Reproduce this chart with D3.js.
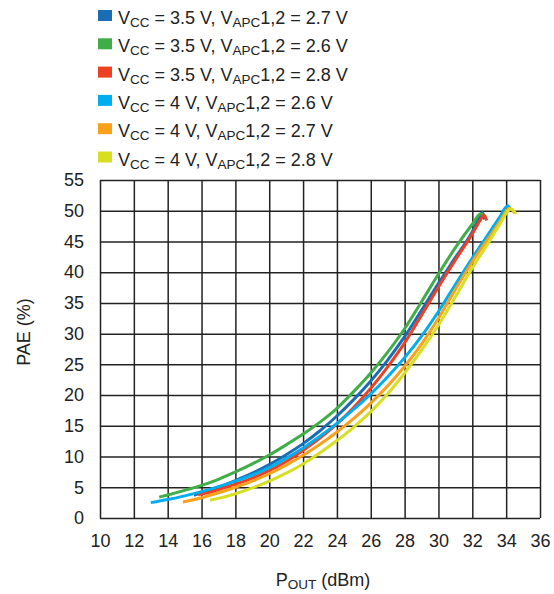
<!DOCTYPE html>
<html>
<head>
<meta charset="utf-8">
<script src="https://cdn.jsdelivr.net/npm/d3@7"></script>
<style>
  body { margin: 0; background: #fff; }
  svg { display: block; font-family: "Liberation Sans", Arial, sans-serif; }
</style>
</head>
<body>
<script>
const w = 554;
const h = 594;
const margin = { top: 180, right: 14, bottom: 76, left: 100 };

// legend entries: [vcc, vapc]
const vcc = ["3.5", "3.5", "3.5", "4", "4", "4"];
const vapc = ["2.7", "2.6", "2.8", "2.6", "2.7", "2.8"];
const colors = ["#1a6db5", "#3fae49", "#ee4124", "#00aeef", "#f9a11b", "#d7df23"];

const xTicks = [10, 12, 14, 16, 18, 20, 22, 24, 26, 28, 30, 32, 34, 36];
const yTicks = [0, 5, 10, 15, 20, 25, 30, 35, 40, 45, 50, 55];

// Pout (dBm) / PAE (%)
const blue = [[15.55, 3.7], [16, 4.1], [17, 5.0], [18, 6.1], [19, 7.3], [20, 8.7], [21, 10.3], [22, 12.1],
  [23, 14.2], [24, 16.6], [25, 19.3], [26, 22.3], [27, 25.7], [28, 29.5], [29, 33.8], [30, 38.2],
  [31, 42.4], [32, 46.6], [32.4, 48.8], [32.6, 49.7], [32.72, 48.6]];
const green = [[13.5, 3.4], [14, 3.75], [15, 4.5], [16, 5.3], [17, 6.3], [18, 7.5], [19, 8.8], [20, 10.25],
  [21, 11.9], [22, 13.65], [23, 15.6], [24, 17.85], [25, 20.6], [26, 23.6], [27, 27.0], [28, 30.8],
  [29, 35.2], [30, 39.7], [31, 44.0], [32, 47.8], [32.5, 49.5], [32.65, 49.3]];
const red = [[15.8, 3.8], [16, 3.9], [17, 4.6], [18, 5.5], [19, 6.5], [20, 7.7], [21, 9.2], [22, 11.0],
  [23, 13.0], [24, 15.3], [25, 18.0], [26, 21.1], [27, 24.6], [28, 28.5], [29, 33.0], [30, 37.6],
  [31, 42.0], [32, 46.2], [32.5, 48.6], [32.7, 49.3], [32.85, 48.4]];
const cyan = [[13.0, 2.5], [14, 3.0], [15, 3.6], [16, 4.3], [17, 5.1], [18, 6.0], [19, 7.0], [20, 8.2],
  [21, 9.7], [22, 11.4], [23, 13.3], [24, 15.4], [25, 17.7], [26, 20.2], [27, 23.0], [28, 26.1],
  [29, 29.6], [30, 33.6], [31, 38.0], [32, 42.3], [33, 46.4], [33.6, 48.9], [34.1, 50.8], [34.22, 50.4]];
const orange = [[14.9, 2.6], [16, 3.3], [17, 4.1], [18, 5.0], [19, 6.0], [20, 7.2], [21, 8.6], [22, 10.2],
  [23, 12.0], [24, 14.0], [25, 16.2], [26, 18.7], [27, 21.5], [28, 24.7], [29, 28.3], [30, 32.5],
  [31, 37.2], [32, 41.7], [33, 45.7], [33.6, 48.1], [34.2, 50.4], [34.5, 49.6]];
const yellow = [[16.5, 2.9], [17, 3.2], [18, 3.95], [19, 4.9], [20, 6.0], [21, 7.3], [22, 8.8], [23, 10.6],
  [24, 12.6], [25, 14.8], [26, 17.3], [27, 20.2], [28, 23.6], [29, 27.3], [30, 31.4], [31, 36.0],
  [32, 40.7], [33, 45.0], [33.6, 47.7], [34.3, 50.3], [34.58, 49.5]];

const series = [blue, green, red, cyan, orange, yellow];

const svg = d3.select("body").append("svg").attr("width", w).attr("height", h);

const xScale = d3.scaleLinear().domain([10, 36]).range([margin.left, w - margin.right]);
const yScale = d3.scaleLinear().domain([0, 55]).range([h - margin.bottom, margin.top]);

const gridColor = "#222";

// x grid + labels
const gx = svg.append("g")
  .attr("transform", "translate(0," + (h - margin.bottom) + ")")
  .call(d3.axisBottom(xScale).tickValues(xTicks).tickSize(-(h - margin.top - margin.bottom)).tickPadding(16));
gx.select(".domain").remove();
gx.selectAll(".tick line").attr("stroke", gridColor).attr("stroke-width", 1.5);
gx.selectAll(".tick text").attr("fill", "#222").style("font-size", "18px").style("font-family", "Liberation Sans, Arial, sans-serif");

// y grid + labels
const gy = svg.append("g")
  .attr("transform", "translate(" + margin.left + ",0)")
  .call(d3.axisLeft(yScale).tickValues(yTicks).tickSize(-(w - margin.left - margin.right)).tickPadding(16));
gy.select(".domain").remove();
gy.selectAll(".tick line").attr("stroke", gridColor).attr("stroke-width", 1.5);
gy.selectAll(".tick text").attr("fill", "#222").style("font-size", "18px").style("font-family", "Liberation Sans, Arial, sans-serif");

// curves
const line = d3.line()
  .x(d => xScale(d[0]))
  .y(d => yScale(d[1]))
  .curve(d3.curveMonotoneX);

svg.selectAll("path.curve")
  .data(series)
  .enter()
  .append("path")
  .attr("class", "curve")
  .attr("d", line)
  .attr("fill", "none")
  .attr("stroke", (d, i) => colors[i])
  .attr("stroke-width", 3)
  .attr("stroke-linecap", "butt");

// legend
const legend = svg.append("g");
vcc.forEach((v, i) => {
  const base = 24 + i * 28.3;
  legend.append("rect")
    .attr("x", 98)
    .attr("y", base - 14)
    .attr("width", 14)
    .attr("height", 11)
    .attr("fill", colors[i]);
  const t = legend.append("text")
    .attr("x", 118)
    .attr("y", base)
    .attr("fill", "#222")
    .style("font-size", "18px");
  t.append("tspan").text("V");
  t.append("tspan").attr("dy", 3).style("font-size", "13.5px").text("CC");
  t.append("tspan").attr("dy", -3).text(" = " + v + " V, V");
  t.append("tspan").attr("dy", 3).style("font-size", "13.5px").text("APC");
  t.append("tspan").attr("dy", -3).text("1,2 = " + vapc[i] + " V");
});

// axis titles
const xt = svg.append("text")
  .attr("x", 323)
  .attr("y", 586)
  .attr("text-anchor", "middle")
  .attr("fill", "#222")
  .style("font-size", "18px");
xt.append("tspan").text("P");
xt.append("tspan").attr("dy", 3).style("font-size", "13.5px").text("OUT");
xt.append("tspan").attr("dy", -3).text(" (dBm)");

svg.append("text")
  .attr("transform", "translate(30,332) rotate(-90)")
  .attr("text-anchor", "middle")
  .attr("fill", "#222")
  .style("font-size", "18px")
  .text("PAE (%)");
</script>
</body>
</html>
